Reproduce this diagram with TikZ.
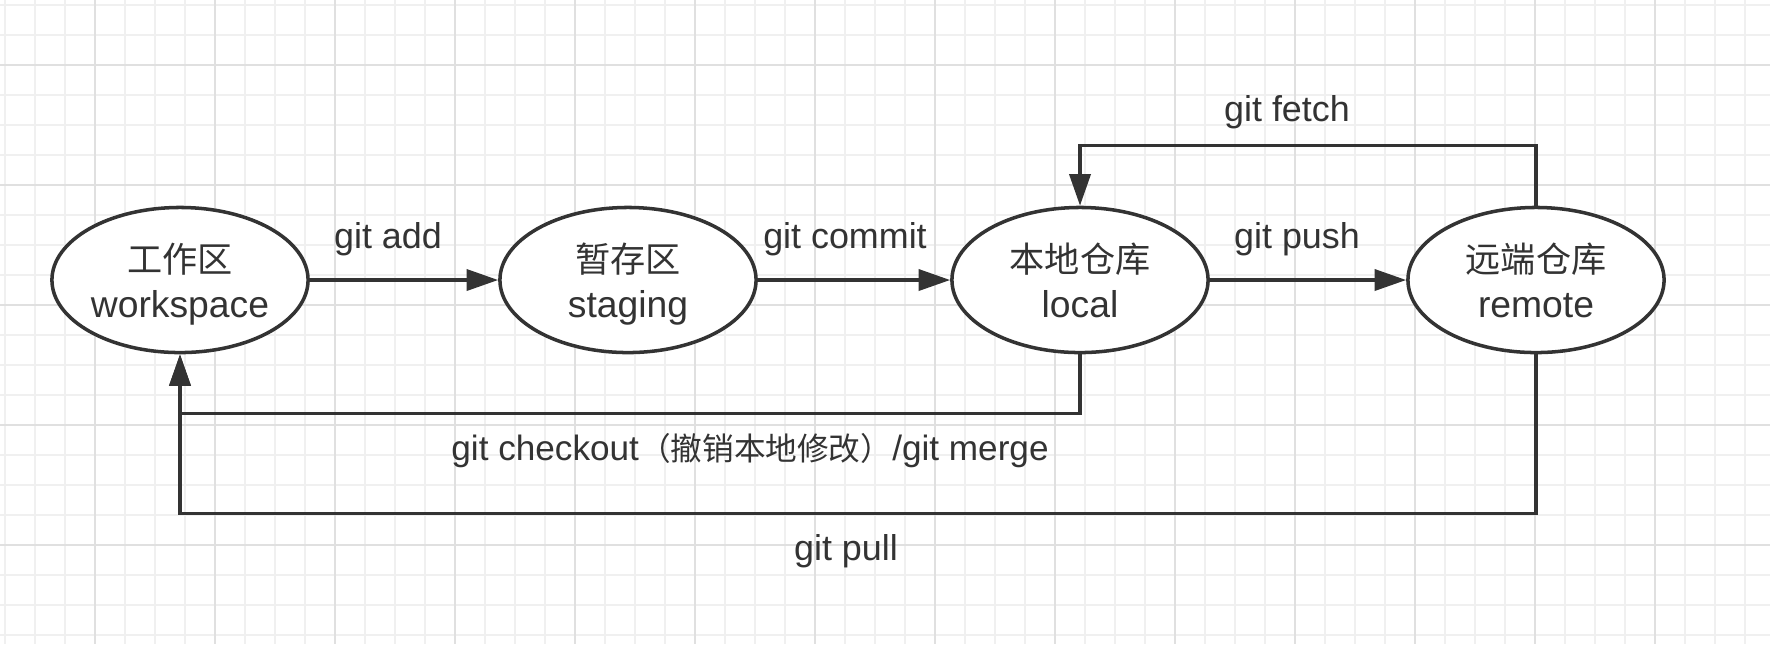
\documentclass[tikz,border=0pt]{standalone}
\usepackage{fontspec}
\setmainfont{Liberation Sans}
\newfontfamily\cjk{Noto Sans CJK SC}
\usepackage{tikz}
\usetikzlibrary{arrows.meta,shapes.geometric}

\newcommand{\zh}[1]{{\cjk #1}}
% two lines inside an area: chinese name above, english name below
\newcommand{\areaname}[2]{\rule{0pt}{10.8pt}\zh{\fontsize{10}{12.5}\selectfont #1}\\#2\vphantom{p}}

\tikzset{
    area/.style={ellipse, draw=black!80, line width=1pt, fill=white,
        minimum width=2.56cm, minimum height=1.45cm, inner sep=0pt,
        align=center, text=black!80, font=\fontsize{10.6}{12.8}\selectfont},
    flow/.style={draw=black!80, line width=1pt,
        -{Triangle[length=9pt, width=6pt]}},
    cmd/.style={anchor=base, inner sep=0pt, text=black!80,
        font=\fontsize{10.2}{12}\selectfont},
    gridminor/.style={draw=black!6, line width=0.45pt},
    gridmajor/.style={draw=black!12, line width=0.45pt}
}

\begin{document}
\begin{tikzpicture}[x=0.01cm, y=-0.01cm]
% White page with the light grid of the drawing canvas behind everything.
\useasboundingbox (0,0) rectangle (1770,644);
\fill[white] (0,0) rectangle (1770,644);
\foreach \x in {5,35,...,1765}
    \draw[gridminor] (\x,0) -- (\x,644);
\foreach \y in {5,35,...,635}
    \draw[gridminor] (0,\y) -- (1770,\y);
\foreach \x in {95,215,...,1655}
    \draw[gridmajor] (\x,0) -- (\x,644);
\foreach \y in {65,185,...,545}
    \draw[gridmajor] (0,\y) -- (1770,\y);

% The four areas a file passes through.
\node[area] (workspace) at (180,280) {\areaname{工作区}{workspace}};
\node[area] (staging) at (628,280) {\areaname{暂存区}{staging}};
\node[area] (local) at (1080,280) {\areaname{本地仓库}{local}};
\node[area] (remote) at (1536,280) {\areaname{远端仓库}{remote}};

% Forward steps, left to right.
\draw[flow] (workspace) -- (staging);
\draw[flow] (staging) -- (local);
\draw[flow] (local) -- (remote);

% Way back: fetch above, checkout and pull below.
\draw[flow] (remote.north) -- ++(0,-60) -| (local.north);
\draw[flow] (local.south) -- ++(0,59) -| (workspace.south);
\draw[flow] (remote.south) -- ++(0,159) -| (workspace.south);

% Commands written next to the connectors.
\node[cmd] (add) at (388,248) {git add};
\node[cmd] (commit) at (845,248) {git commit};
\node[cmd] (push) at (1297,248) {git push};
\node[cmd] (fetch) at (1287,121) {git fetch};
\node[cmd, font=\fontsize{10}{12}\selectfont] (checkout) at (750,460)
    {git checkout\zh{\fontsize{9}{12}\selectfont （撤销本地修改）}/git merge};
\node[cmd] (pull) at (846,560) {git pull};
\end{tikzpicture}
\end{document}
